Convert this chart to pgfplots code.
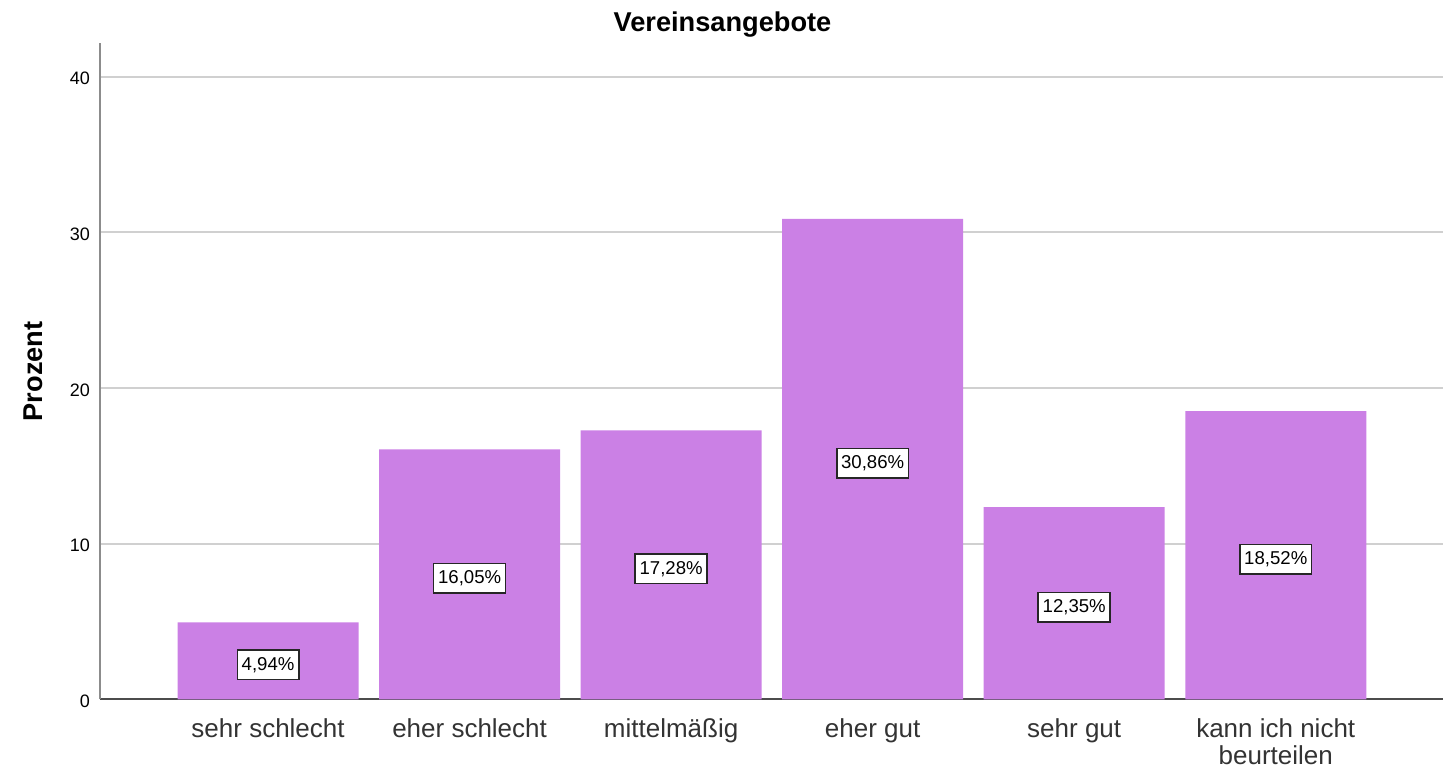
\documentclass[border=0pt]{standalone}
\usepackage{pgfplots}
\pgfplotsset{compat=1.18}
\usepackage{fontspec}
\setmainfont{Liberation Sans}
\definecolor{barc}{RGB}{203,128,229}
\definecolor{gridc}{RGB}{208,208,208}
\begin{document}
\begin{tikzpicture}
\path[use as bounding box] (-50pt,-34.85pt) rectangle (677.5pt,349.65pt);
\begin{axis}[
  at={(0pt,0pt)}, anchor=south west, scale only axis,
  width=671.5pt, height=327.9pt,
  xmin=-0.834, xmax=5.83, ymin=0, ymax=42.13,
  axis x line*=bottom, axis y line*=left,
  x axis line style={-, draw=black!70, line width=0.8pt},
  y axis line style={-, draw=black!45, line width=1pt},
  major tick length=0pt,
  ytick={0,10,20,30,40},
  xtick={0,1,2,3,4,5},
  xticklabels={sehr schlecht, eher schlecht, mittelmäßig, eher gut, sehr gut, {kann ich nicht\\beurteilen}},
  xticklabel style={font=\fontsize{13}{13.8}\selectfont, align=center, text=black!80, yshift=-6pt},
  yticklabel style={font=\fontsize{9}{10}\selectfont, xshift=-1.5pt, yshift=-1pt},
  /pgf/number format/assume math mode=true,
  ymajorgrids, grid style={draw=gridc, line width=1pt},
  ylabel={Prozent},
  every axis y label/.style={at={([xshift=-33.5pt]rel axis cs:0,0.5)}, rotate=90, anchor=center, font=\bfseries\fontsize{13.6}{15}\selectfont},
  title={Vereinsangebote},
  every axis title/.style={at={([xshift=-24.5pt,yshift=9.25pt]rel axis cs:0.5,1)}, anchor=center, font=\bfseries\fontsize{13.6}{15}\selectfont},
  ybar, bar width=90.5pt,
  nodes near coords,
  point meta=explicit symbolic,
  visualization depends on={rawy \as \rawy},
  every node near coord/.append style={anchor=center, shift={(axis direction cs:0,-\rawy/2)}, yshift=-2pt,
     draw=black!85, fill=white, line width=0.8pt, inner xsep=2.2pt, inner ysep=3.2pt,
     text height=6.8pt, text depth=1.5pt, font=\fontsize{9.3}{10}\selectfont},
]
\addplot[fill=barc, draw=none] coordinates {
 (0,4.94) [4,94\%]
 (1,16.05) [16,05\%]
 (2,17.28) [17,28\%]
 (3,30.86) [30,86\%]
 (4,12.35) [12,35\%]
 (5,18.52) [18,52\%]
};
\end{axis}
\end{tikzpicture}
\end{document}
